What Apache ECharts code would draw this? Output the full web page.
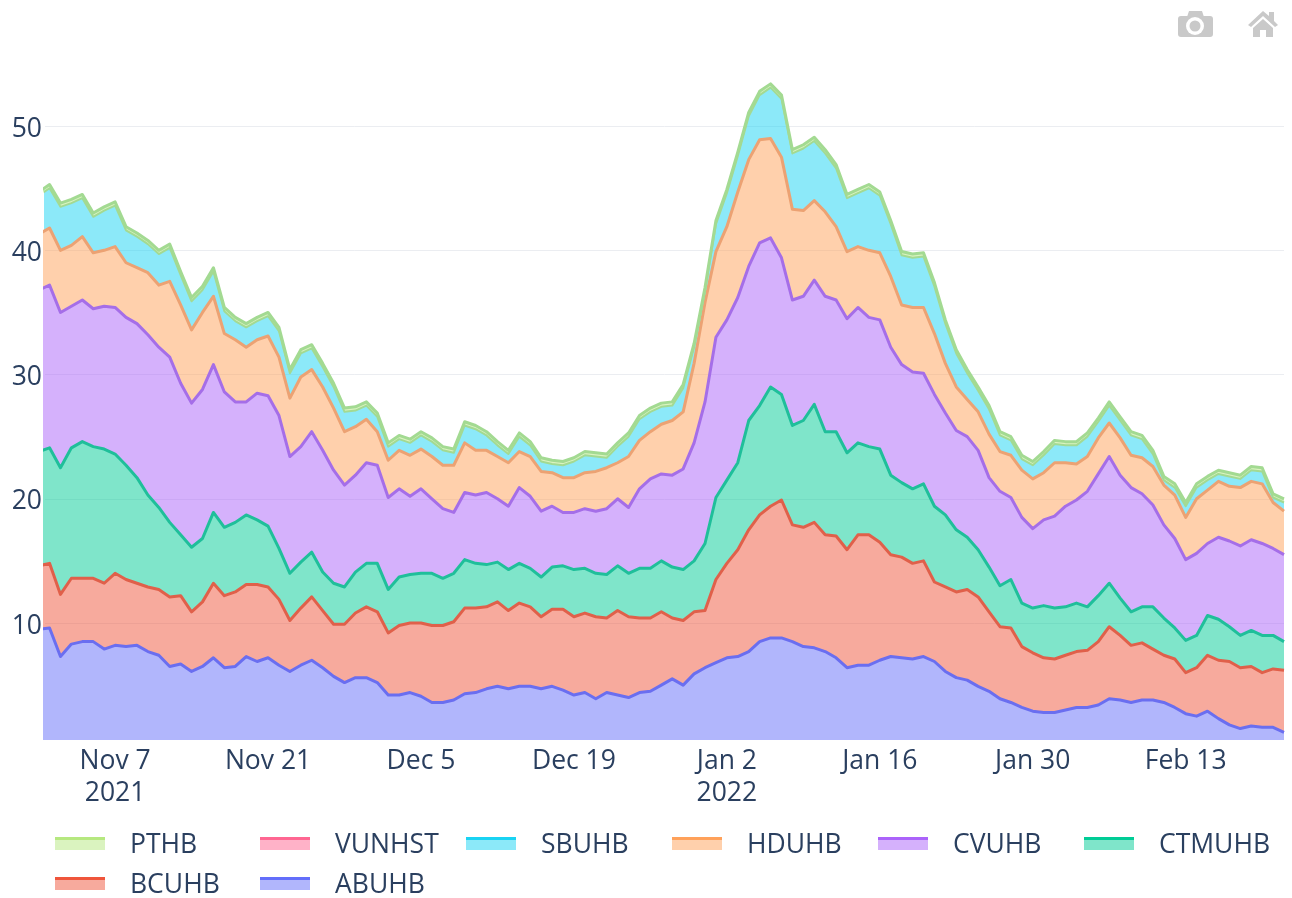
<!DOCTYPE html>
<html>
<head>
<meta charset="utf-8">
<style>html,body{margin:0;padding:0;background:#fff}#c{width:1292px;height:898px}</style>
<script src="https://cdn.jsdelivr.net/npm/echarts@6/dist/echarts.min.js"></script>
</head>
<body>
<div id="c"></div>
<script>
const dates = ["2021-10-31","2021-11-01","2021-11-02","2021-11-03","2021-11-04","2021-11-05","2021-11-06","2021-11-07","2021-11-08","2021-11-09","2021-11-10","2021-11-11","2021-11-12","2021-11-13","2021-11-14","2021-11-15","2021-11-16","2021-11-17","2021-11-18","2021-11-19","2021-11-20","2021-11-21","2021-11-22","2021-11-23","2021-11-24","2021-11-25","2021-11-26","2021-11-27","2021-11-28","2021-11-29","2021-11-30","2021-12-01","2021-12-02","2021-12-03","2021-12-04","2021-12-05","2021-12-06","2021-12-07","2021-12-08","2021-12-09","2021-12-10","2021-12-11","2021-12-12","2021-12-13","2021-12-14","2021-12-15","2021-12-16","2021-12-17","2021-12-18","2021-12-19","2021-12-20","2021-12-21","2021-12-22","2021-12-23","2021-12-24","2021-12-25","2021-12-26","2021-12-27","2021-12-28","2021-12-29","2021-12-30","2021-12-31","2022-01-01","2022-01-02","2022-01-03","2022-01-04","2022-01-05","2022-01-06","2022-01-07","2022-01-08","2022-01-09","2022-01-10","2022-01-11","2022-01-12","2022-01-13","2022-01-14","2022-01-15","2022-01-16","2022-01-17","2022-01-18","2022-01-19","2022-01-20","2022-01-21","2022-01-22","2022-01-23","2022-01-24","2022-01-25","2022-01-26","2022-01-27","2022-01-28","2022-01-29","2022-01-30","2022-01-31","2022-02-01","2022-02-02","2022-02-03","2022-02-04","2022-02-05","2022-02-06","2022-02-07","2022-02-08","2022-02-09","2022-02-10","2022-02-11","2022-02-12","2022-02-13","2022-02-14","2022-02-15","2022-02-16","2022-02-17","2022-02-18","2022-02-19","2022-02-20","2022-02-21","2022-02-22"];
const ABUHB = [9.5,9.6,7.3,8.3,8.5,8.5,7.9,8.2,8.1,8.2,7.7,7.4,6.5,6.7,6.1,6.5,7.2,6.4,6.5,7.3,6.9,7.2,6.6,6.1,6.6,7,6.4,5.7,5.2,5.6,5.6,5.2,4.2,4.2,4.4,4.1,3.6,3.6,3.8,4.3,4.4,4.7,4.9,4.7,4.9,4.9,4.7,4.9,4.6,4.2,4.4,3.9,4.4,4.2,4,4.4,4.5,5,5.5,5,5.9,6.4,6.8,7.2,7.3,7.7,8.5,8.8,8.8,8.5,8.1,8,7.7,7.2,6.4,6.6,6.6,7,7.3,7.2,7.1,7.3,6.9,6.1,5.6,5.4,4.9,4.5,3.9,3.6,3.2,2.9,2.8,2.8,3,3.2,3.2,3.4,3.9,3.8,3.6,3.8,3.8,3.6,3.2,2.7,2.5,2.9,2.3,1.8,1.5,1.7,1.6,1.6,1.2];
const BCUHB = [5.1,5.2,5,5.3,5.1,5.1,5.3,5.8,5.4,5,5.2,5.3,5.6,5.5,4.8,5.2,6,5.8,6,5.8,6.2,5.7,5.3,4.1,4.6,5.1,4.6,4.2,4.7,5.2,5.7,5.7,5,5.6,5.6,5.9,6.2,6.2,6.3,6.9,6.8,6.6,6.8,6.3,6.7,6.4,5.8,6.2,6.5,6.3,6.4,6.6,6,6.8,6.5,6,5.9,5.9,4.9,5.2,5,4.6,6.7,7.6,8.6,9.8,10.2,10.6,11.1,9.4,9.6,10.1,9.4,9.8,9.5,10.5,10.5,9.5,8.2,8.1,7.7,7.7,6.4,6.8,6.9,7.3,7.2,6.4,5.8,6,4.9,4.7,4.4,4.3,4.4,4.5,4.6,5.1,5.8,5.2,4.6,4.6,4.1,3.8,3.9,3.3,3.9,4.5,4.7,5.1,4.9,4.8,4.4,4.7,5];
const CTMUHB = [9.2,9.3,10.2,10.5,11,10.6,10.8,9.6,9.2,8.5,7.4,6.6,6,4.9,5.2,5.1,5.7,5.5,5.6,5.6,5.2,4.9,4.1,3.8,3.7,3.6,3.1,3.3,3,3.3,3.5,3.9,3.5,3.9,3.9,4,4.2,3.8,3.9,3.9,3.6,3.4,3.2,3.3,3.2,3.1,3.2,3.4,3.5,3.8,3.6,3.5,3.5,3.6,3.5,4,4,4.1,4.1,4.1,4.1,5.4,6.6,6.7,7,8.8,8.8,9.6,8.5,8,8.6,9.5,8.3,8.4,7.8,7.4,7.1,7.5,6.4,6,6,6.2,6.1,5.8,5,4.2,3.8,3.6,3.3,3.9,3.5,3.6,4.2,4.1,3.9,3.9,3.5,3.7,3.5,3,2.7,2.9,3.4,3,2.5,2.6,2.6,3.2,3.3,2.8,2.6,2.9,3,2.7,2.3];
const CVUHB = [13,13.1,12.5,11.4,11.4,11.1,11.5,11.8,11.9,12.4,12.9,12.9,13.3,12.2,11.6,12,11.9,10.9,9.7,9.1,10.2,10.5,10.7,9.4,9.3,9.7,9.8,9.1,8.2,7.8,8.1,7.9,7.4,7.1,6.3,6.8,6,5.6,4.9,5.4,5.5,5.8,5.1,5.1,6.1,5.8,5.3,4.9,4.3,4.6,4.8,5,5.3,5.4,5.3,6.4,7.2,7,7.4,8.1,9.5,11.4,12.9,12.9,13.3,12.4,13.1,12,11,10.1,10,10,10.9,10.6,10.8,10.9,10.4,10.4,10.3,9.5,9.4,8.9,9,8.2,8,8.1,8,7.2,7.6,6.6,6.9,6.4,6.9,7.4,8.1,8.3,9.3,9.8,10.2,9.9,10,9.1,8.2,7.5,7.2,6.5,6.6,5.8,6.6,6.9,7.2,7.3,7.4,7,7];
const HDUHB = [4.5,4.6,5,4.9,5.1,4.5,4.5,4.9,4.4,4.5,5,5,6.1,6.3,5.9,6.2,5.5,4.7,5,4.4,4.3,4.8,4.7,4.7,5.6,5,5.1,5,4.3,3.9,3.5,2.7,3,3.1,3.3,3.2,3.4,3.5,3.8,4,3.6,3.4,3.4,3.5,2.9,3.2,3.2,2.7,2.8,2.8,2.9,3.2,3.3,2.9,4.1,3.9,3.8,4,4.4,4.6,6.4,8,6.9,7.5,8.5,8.6,8.3,8,8.1,7.3,6.9,6.4,6.8,5.9,5.4,4.9,5.4,5.4,5.7,4.8,5.2,5.3,4.9,4,3.5,3,3.1,3.5,3.2,3.4,3.8,4,3.8,4.3,3.5,2.9,2.8,2.9,2.7,3,2.6,2.9,3.1,3.2,3.5,3.4,4.4,4.3,4.5,4.4,4.7,4.7,4.8,3.7,3.5];
const SBUHB = [3.1,3.2,3.5,3.4,3.1,2.9,3.2,3.3,2.6,2.5,2.3,2.5,2.7,2.4,2.3,1.8,2,1.8,1.5,1.6,1.5,1.6,2.1,2,1.9,1.7,1.6,1.7,1.6,1.3,1.1,1.2,1.1,0.9,1,1.1,1.2,1.2,1,1.4,1.7,1.2,0.9,0.7,1.2,0.9,0.8,0.7,1,1.3,1.4,1.2,0.8,1.3,1.6,1.7,1.6,1.4,1.2,1.9,1.3,0.9,2.2,2.7,2.9,3.5,3.6,4.1,4.7,4.5,5,4.8,4.7,4.7,4.3,4.3,5,4.6,4.2,4,4,4.1,3.8,3.2,2.7,2.1,1.7,2,1.3,1.2,0.9,1.1,1.4,1.5,1.4,1.5,1.6,1.3,1.4,1.4,1.6,1.5,1,0.4,0.6,0.9,0.9,0.8,0.6,0.8,0.7,0.9,1,0.4,0.7];
const VUNHST = [0,0,0,0,0,0,0,0,0,0,0,0,0,0,0,0,0,0,0,0,0,0,0,0,0,0,0,0,0,0,0,0,0,0,0,0,0,0,0,0,0,0,0,0,0,0,0,0,0,0,0,0,0,0,0,0,0,0,0,0,0,0,0,0,0,0,0,0,0,0,0,0,0,0,0,0,0,0,0,0,0,0,0,0,0,0,0,0,0,0,0,0,0,0,0,0,0,0,0,0,0,0,0,0,0,0,0,0,0,0,0,0,0,0,0];
const PTHB = [0.3,0.3,0.3,0.3,0.3,0.3,0.3,0.3,0.3,0.3,0.3,0.3,0.3,0.3,0.3,0.3,0.3,0.3,0.3,0.3,0.3,0.3,0.3,0.3,0.3,0.3,0.3,0.3,0.3,0.3,0.3,0.3,0.3,0.3,0.3,0.3,0.3,0.3,0.3,0.3,0.3,0.3,0.3,0.3,0.3,0.3,0.3,0.3,0.3,0.3,0.3,0.3,0.3,0.3,0.3,0.3,0.3,0.3,0.3,0.3,0.3,0.3,0.3,0.3,0.3,0.3,0.3,0.3,0.3,0.3,0.3,0.3,0.3,0.3,0.3,0.3,0.3,0.3,0.3,0.3,0.3,0.3,0.3,0.3,0.3,0.3,0.3,0.3,0.3,0.3,0.3,0.3,0.3,0.3,0.3,0.3,0.3,0.3,0.3,0.3,0.3,0.3,0.3,0.3,0.3,0.3,0.3,0.3,0.3,0.3,0.3,0.3,0.3,0.3,0.3];
const xTickDates = ["2021-11-07","2021-11-21","2021-12-05","2021-12-19","2022-01-02","2022-01-16","2022-01-30","2022-02-13"];
const xTickLabels = ["Nov 7\n2021","Nov 21","Dec 5","Dec 19","Jan 2\n2022","Jan 16","Jan 30","Feb 13"];
const yTicks = [10,20,30,40,50];

// name, values, base colour, colour of the drawn line, line width
const traces = [
  ["ABUHB", ABUHB, "#636efa", "#6a6ef0", 3],
  ["BCUHB", BCUHB, "#EF553B", "#e0604a", 3],
  ["CTMUHB", CTMUHB, "#00cc96", "#1fbf9a", 3],
  ["CVUHB", CVUHB, "#ab63fa", "#a56ee8", 3],
  ["HDUHB", HDUHB, "#FFA15A", "#eca273", 3],
  ["SBUHB", SBUHB, "#19d3f3", "#a3da92", 2],
  ["VUNHST", VUNHST, "#FF6692", "#a3da92", 0],
  ["PTHB", PTHB, "#B6E880", "#a3da92", 3]
];
const legendPlaces = {
  PTHB:[55,832], VUNHST:[260,832], SBUHB:[466,832], HDUHB:[672,832], CVUHB:[878,832], CTMUHB:[1084,832],
  BCUHB:[55,872], ABUHB:[260,872]
};
const textColor = "#2a3f5f";
const fontFamily = '"Open Sans", Verdana, Arial, sans-serif';
const iconGray = "#c9c9c9";
const ms = d => Date.parse(d + "T00:00:00Z");
const xMs = xTickDates.map(ms);

const legends = traces.map(([name]) => ({
  show: true, data: [name], left: legendPlaces[name][0], top: legendPlaces[name][1],
  itemWidth: 50, itemHeight: 14, itemGap: 0, padding: 0, icon: "rect", selectedMode: false,
  itemStyle: { color: "rgba(255,255,255,0)", borderWidth: 0 },
  lineStyle: { width: 0, opacity: 0 },
  textStyle: { color: textColor, fontSize: 26.5, fontFamily: fontFamily, padding: [0, 0, 0, 20] }
}));
const swatches = traces.flatMap(([name, , color]) => [
  { type: "rect", silent: true, z: 9,
    shape: { x: legendPlaces[name][0], y: legendPlaces[name][1] + 5, width: 50, height: 13 },
    style: { fill: echarts.color.modifyAlpha(color, 0.5) } },
  { type: "rect", silent: true, z: 10,
    shape: { x: legendPlaces[name][0], y: legendPlaces[name][1] + 5, width: 50, height: 3 },
    style: { fill: color } }
]);
const modebar = [
  { type: "rect", silent: true, shape: { x: 1178, y: 16, width: 35, height: 21, r: 3 }, style: { fill: iconGray } },
  { type: "polygon", silent: true, shape: { points: [[1187,17],[1189,11],[1202,11],[1204,17]] }, style: { fill: iconGray } },
  { type: "circle", silent: true, z: 2, shape: { cx: 1195, cy: 26, r: 9 }, style: { fill: "#ffffff" } },
  { type: "circle", silent: true, z: 3, shape: { cx: 1195, cy: 26, r: 5.5 }, style: { fill: iconGray } },
  { type: "polygon", silent: true, shape: { points: [[1248,25],[1263,11],[1269,16],[1269,12],[1274,12],[1274,21],[1278,25],[1275,27],[1263,16],[1251,27]] }, style: { fill: iconGray } },
  { type: "polygon", silent: true, shape: { points: [[1253,28],[1263,19],[1273,28],[1273,37],[1266,37],[1266,30],[1260,30],[1260,37],[1253,37]] }, style: { fill: iconGray } }
];

const chart = echarts.init(document.getElementById("c"), null, { renderer: "canvas" });
chart.setOption({
  animation: false,
  backgroundColor: "#ffffff",
  grid: { left: 45, right: 8, top: 64, bottom: 158, containLabel: false },
  xAxis: {
    type: "value",
    min: Date.parse("2021-10-31T14:00:00Z"),
    max: ms("2022-02-22"),
    axisLine: { show: false },
    axisTick: { show: false, customValues: xMs },
    splitLine: { show: false },
    axisLabel: {
      customValues: xMs,
      hideOverlap: false,
      margin: 5,
      color: textColor, fontSize: 26.5, lineHeight: 32, fontFamily: fontFamily,
      formatter: v => xTickLabels[xMs.indexOf(+v)] || ""
    }
  },
  yAxis: {
    type: "value",
    min: 0.58, max: 55,
    axisLine: { show: false },
    axisTick: { show: false, customValues: yTicks },
    splitLine: { show: true, lineStyle: { color: "#ebedf1", width: 1 } },
    axisLabel: { customValues: yTicks, margin: 3, verticalAlign: "top", lineHeight: 6, color: textColor, fontSize: 26.5, fontFamily: fontFamily }
  },
  legend: legends,
  graphic: swatches.concat(modebar),
  series: traces.map(([name, values, color, lineColor, lineWidth]) => ({
    name, type: "line", stack: "total", showSymbol: false, symbol: "none", smooth: false,
    encode: { x: 1, y: 0 },
    lineStyle: { color: lineColor, width: lineWidth, join: "round" },
    itemStyle: { color },
    areaStyle: { color: echarts.color.modifyAlpha(color, 0.5), opacity: 1 },
    data: dates.map((d, i) => [values[i], ms(d)])
  }))
});
</script>
</body>
</html>
